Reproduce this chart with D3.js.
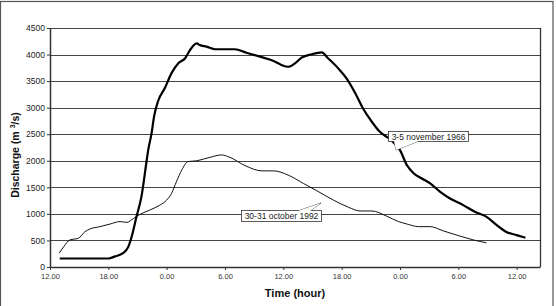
<!DOCTYPE html>
<html><head><meta charset="utf-8">
<script src="https://cdn.jsdelivr.net/npm/d3@7"></script>
<style>body{margin:0;background:#fff}svg{display:block}</style>
</head><body>
<svg id="c" width="556" height="306"></svg>
<script>
// hours since first 12.00
const hours1966 = [1.0,6.0,6.7,7.5,8.05,8.4,8.9,9.4,9.95,10.1,10.45,10.7,11.15,11.8,12.5,13.2,13.9,14.4,15.1,15.4,16.1,17.0,19.0,20.2,21.6,23.0,23.8,24.5,25.2,25.9,26.9,27.95,28.6,29.65,30.5,31.4,32.2,33.1,33.9,35.0,36.0,36.7,37.4,38.2,39.1,40.1,41.1,42.5,43.7,44.9,45.95,47.0,48.0,48.9];
const flow1966  = [160,160,200,260,380,570,950,1320,2015,2200,2520,2830,3140,3365,3650,3835,3930,4085,4210,4180,4150,4100,4100,4035,3960,3880,3805,3770,3835,3945,4005,4040,3930,3740,3550,3270,2985,2735,2550,2400,2200,1920,1765,1670,1575,1420,1295,1165,1040,945,790,655,600,550];
const hours1992 = [0.95,1.4,2.05,2.9,3.6,4.1,5.15,6.2,7.2,7.9,8.6,9.25,10.3,11.3,12.0,12.5,13.0,13.55,14.2,15.1,16.45,17.65,18.5,20.05,21.8,23.0,24.5,26.05,27.45,29.15,30.7,31.9,33.1,34.6,35.85,36.7,37.9,39.1,40.45,41.85,43.55,44.9];
const flow1992  = [260,380,510,540,665,715,760,810,855,840,915,990,1075,1165,1260,1385,1605,1825,1985,2000,2065,2110,2065,1910,1810,1810,1730,1575,1435,1260,1125,1055,1055,960,855,810,760,760,680,600,510,455];
const xTicks = [0,6,12,18,24,30,36,42,48];
const xTickLabels = ["12.00","18.00","0.00","6.00","12.00","18.00","0.00","6.00","12.00"];
const yTicks = [0,500,1000,1500,2000,2500,3000,3500,4000,4500];
const seriesNames = ["3-5 november 1966","30-31 october 1992"];

const FONT = "'Liberation Sans', Arial, sans-serif";
const svg = d3.select("#c");
const L=50,R=540,T=28,B=267;
const x = d3.scaleLinear().domain([0,50.4]).range([L,R]);
const y = d3.scaleLinear().domain([0,4500]).range([B,T]);

// outer frame
svg.append("rect").attr("x",0.5).attr("y",1.5).attr("width",552.5).attr("height",310)
  .attr("fill","none").attr("stroke","#555").attr("stroke-width",1.2);

// gridlines
svg.append("g").selectAll("line").data(yTicks.filter(d=>d>0)).join("line")
  .attr("x1",L).attr("x2",R).attr("y1",d=>Math.round(y(d))+0.5).attr("y2",d=>Math.round(y(d))+0.5)
  .attr("stroke","#444").attr("stroke-width",1);
// right border of plot
svg.append("line").attr("x1",R+0.5).attr("x2",R+0.5).attr("y1",T).attr("y2",B).attr("stroke","#333").attr("stroke-width",1.3);

// axes
const yAxis = d3.axisLeft(y).tickValues(yTicks).tickSize(3).tickSizeOuter(0).tickFormat(d3.format("d"));
const gy = svg.append("g").attr("transform",`translate(${L},0)`).call(yAxis);
gy.select(".domain").attr("stroke","#333").attr("stroke-width",1.5);
gy.selectAll(".tick line").attr("stroke","#333");
gy.selectAll("text").attr("font-family",FONT).attr("font-size",8.5).attr("fill","#222").attr("x",-5);

const xAxis = d3.axisBottom(x).tickValues(xTicks).tickSize(3).tickSizeOuter(0).tickFormat((d,i)=>xTickLabels[i]);
const gx = svg.append("g").attr("transform",`translate(0,${B})`).call(xAxis);
gx.select(".domain").attr("stroke","#333").attr("stroke-width",1.5);
gx.selectAll(".tick line").attr("stroke","#333");
gx.selectAll("text").attr("font-family",FONT).attr("font-size",7.5).attr("fill","#333").attr("y",7);

// lines
const line = d3.line().x(d=>x(d[0])).y(d=>y(d[1])).curve(d3.curveMonotoneX);
svg.append("path").datum(hours1992.map((h,i)=>[h,flow1992[i]])).attr("d",line)
  .attr("fill","none").attr("stroke","#111").attr("stroke-width",1);
svg.append("path").datum(hours1966.map((h,i)=>[h,flow1966[i]])).attr("d",line)
  .attr("fill","none").attr("stroke","#000").attr("stroke-width",2.2);

// axis titles
svg.append("text").attr("x",295).attr("y",297).attr("text-anchor","middle")
  .attr("font-family",FONT).attr("font-weight","bold").attr("font-size",11).attr("fill","#111")
  .text("Time (hour)");
const yt = svg.append("text").attr("transform","translate(19,155) rotate(-90)").attr("text-anchor","middle")
  .attr("font-family",FONT).attr("font-weight","bold").attr("font-size",10.5).attr("fill","#111");
yt.append("tspan").text("Discharge (m ");
yt.append("tspan").attr("font-size",7).attr("dy",-4).text("3");
yt.append("tspan").attr("dy",4).text("/s)");

// callouts
function callout(bx,by,bw,bh,pts,label){
  svg.append("path").attr("d","M"+pts.map(p=>p.join(",")).join("L"))
    .attr("fill","#fff").attr("stroke","#333").attr("stroke-width",0.8);
  svg.append("rect").attr("x",bx).attr("y",by).attr("width",bw).attr("height",bh)
    .attr("fill","#fff").attr("stroke","#333").attr("stroke-width",0.8);
  svg.append("path").attr("d","M"+pts.map(p=>p.join(",")).join("L"))
    .attr("fill","#fff").attr("stroke","none");
  svg.append("text").attr("x",bx+bw/2).attr("y",by+bh/2+3).attr("text-anchor","middle")
    .attr("font-family",FONT).attr("font-size",8.5).attr("fill","#222").text(label);
}
callout(388.5,131.5,80,10,[[394,140.5],[396,150],[420,140.5]],seriesNames[0]);
callout(241.5,210.5,80,11,[[298,211],[321,203],[310,211]],seriesNames[1]);
</script>
</body></html>
